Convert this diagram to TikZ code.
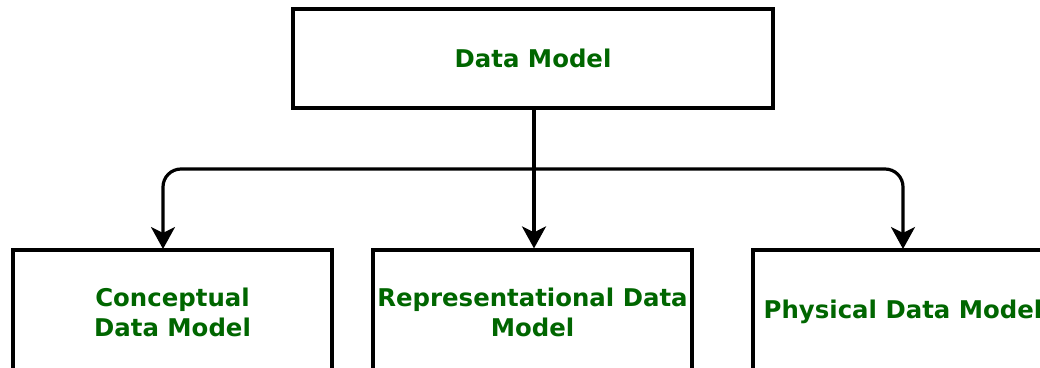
\documentclass[tikz,border=0pt]{standalone}
\usepackage{fontspec}
\newfontfamily\dvs{DejaVu Sans}
\usetikzlibrary{arrows.meta}
\definecolor{txtgreen}{HTML}{006600}
\tikzset{
  box/.style={draw=black, line width=3.2pt, fill=white, inner sep=0pt, align=center,
    text=txtgreen, font=\dvs\bfseries\fontsize{24.4pt}{30pt}\selectfont},
  conn/.style={draw=black, line width=3.2pt},
  arr/.style={conn, -{Stealth[length=22pt, width=24pt, inset=6pt]}, rounded corners=18pt}
}
\begin{document}
\begin{tikzpicture}[x=1pt,y=-1pt]
  \useasboundingbox (0,0) rectangle (1040,367);
  \clip (0,0) rectangle (1040,367);
  \fill[white] (0,0) rectangle (1040,367);
  \node[box, minimum width=480pt, minimum height=99pt] (top) at (533,58.5) {Data Model};
  \node[box, minimum width=319pt, minimum height=124pt] (lb) at (172.5,312) {Conceptual\\Data Model};
  \node[box, minimum width=319pt, minimum height=124pt] (mb) at (532.5,312) {Representational Data\\Model};
  \node[box, minimum width=300pt, minimum height=124pt] (rb) at (903,312) {Physical Data Model};
  \coordinate (hub) at (534,169);
  \coordinate (la) at (163,249);
  \coordinate (ra) at (903,249);
  \draw[conn] (top.south -| hub) -- (hub);
  \draw[arr] (hub) -| (la);
  \draw[arr] (hub) -| (ra);
  \draw[arr] (hub) -- (hub |- mb.north);
\end{tikzpicture}
\end{document}
